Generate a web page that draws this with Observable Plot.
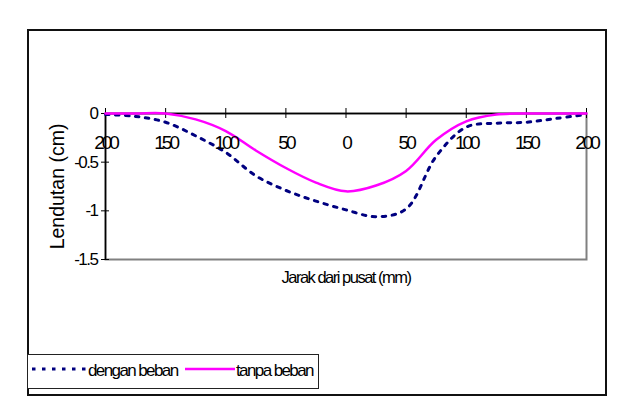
<!DOCTYPE html>
<html>
<head>
<meta charset="utf-8">
<script src="https://cdn.jsdelivr.net/npm/d3@7"></script>
<script src="https://cdn.jsdelivr.net/npm/@observablehq/plot@0.6"></script>
<style>
  html, body { margin: 0; padding: 0; background: #fff; }
  #wrap { position: relative; width: 635px; height: 415px; overflow: hidden; font-family: "Liberation Sans", Arial, sans-serif; }
  #chart { position: absolute; left: 0; top: 0; }
  #outer { position: absolute; left: 27px; top: 29px; width: 580px; height: 367px; border: 2px solid #111; box-sizing: border-box; pointer-events: none; }
  #legend { position: absolute; left: 27px; top: 354px; width: 292px; height: 35px; border: 1.5px solid #222; box-sizing: border-box; background: #fff; }
  #legend .sw { position: absolute; top: 11px; }
  #legend .lt { position: absolute; top: 6px; font-size: 17px; letter-spacing: -1.6px; color: #000; white-space: nowrap; line-height: 20px; }
</style>
</head>
<body>
<div id="wrap">
  <div id="chart"></div>
  <div id="outer"></div>
  <div id="legend"></div>
</div>
<script>
// Data
const xPositions = [-200, -175, -150, -125, -100, -75, -50, -25, 0, 25, 50, 75, 100, 125, 150, 175, 200];
const denganBeban = [-0.01, -0.03, -0.09, -0.23, -0.40, -0.64, -0.79, -0.90, -0.99, -1.06, -0.98, -0.44, -0.14, -0.10, -0.09, -0.05, -0.01];
const tanpaBeban  = [0, 0, 0, -0.06, -0.18, -0.38, -0.56, -0.71, -0.80, -0.74, -0.59, -0.27, -0.08, -0.01, 0, 0, 0];
const xTicks = [-200, -150, -100, -50, 0, 50, 100, 150, 200];
const yTicks = [0, -0.5, -1, -1.5];
const yTickLabels = ["0", "-0.5", "-1", "-1.5"];
const seriesNames = ["dengan beban", "tanpa beban"];
const seriesColors = ["#000080", "#FF00FF"];
const yTitle = "Lendutan (cm)";
const xTitle = "Jarak dari pusat (mm)";

const rows = [];
xPositions.forEach((x, i) => {
  rows.push({x, y: denganBeban[i], s: seriesNames[0]});
  rows.push({x, y: tanpaBeban[i], s: seriesNames[1]});
});

const plot = Plot.plot({
  width: 635,
  height: 415,
  marginLeft: 105,
  marginRight: 49,
  marginTop: 113,
  marginBottom: 156,
  x: {domain: [-200, 200], axis: null},
  y: {domain: [-1.5, 0], axis: null},
  style: {fontFamily: "'Liberation Sans', Arial, sans-serif", background: "transparent", color: "#000"},
  marks: [
    Plot.frame({stroke: "#808080", strokeWidth: 2}),
    Plot.ruleX([-200], {stroke: "#000", strokeWidth: 1.5}),
    Plot.ruleY([0], {stroke: "#000", strokeWidth: 1.5}),
    Plot.ruleX(xTicks, {x: d => d, y1: 0, y2: 0, insetTop: -5, insetBottom: -5, stroke: "#000", strokeWidth: 1}),
    Plot.ruleY(yTicks, {y: d => d, x1: -200, x2: -200, insetLeft: -4, insetRight: -4, stroke: "#000", strokeWidth: 1}),
    Plot.line(rows.filter(d => d.s === seriesNames[0]), {x: "x", y: "y", curve: "catmull-rom", stroke: seriesColors[0], strokeWidth: 3, strokeDasharray: "3.5,6.5"}),
    Plot.line(rows.filter(d => d.s === seriesNames[1]), {x: "x", y: "y", curve: "catmull-rom", stroke: seriesColors[1], strokeWidth: 2.5}),
    Plot.text(xTicks, {x: d => d, frameAnchor: "top", lineAnchor: "middle", dy: 29, text: d => String(Math.abs(d)), fontSize: 19, fill: "#000"}),
    Plot.text(yTicks, {y: d => d, frameAnchor: "left", dx: -8, textAnchor: "end", lineAnchor: "middle", text: (d, i) => yTickLabels[i], fontSize: 17, fill: "#000"}),
    Plot.text([yTitle], {frameAnchor: "left", dx: -48, rotate: -90, textAnchor: "middle", lineAnchor: "middle", text: d => d, fontSize: 19.5, fill: "#000"}),
    Plot.text([xTitle], {frameAnchor: "bottom", dy: 18, lineAnchor: "middle", text: d => d, fontSize: 16.5, fill: "#000"})
  ]
});
document.getElementById("chart").appendChild(plot);

// Condensed horizontal text, like the reference's rendering
const spacing = {"19": "-3px", "17": "-1.5px", "16.5": "-1.5px"};
d3.select(plot).selectAll("g").each(function() {
  const fs = this.getAttribute("font-size");
  if (fs && spacing[fs]) {
    d3.select(this).attr("letter-spacing", spacing[fs]).selectAll("text").attr("letter-spacing", spacing[fs]);
  }
});

// Legend
const legend = document.getElementById("legend");
const items = [
  {name: seriesNames[0], color: seriesColors[0], dash: "3.5,6.5", width: 3, swLeft: 4, swW: 56, txtLeft: 60},
  {name: seriesNames[1], color: seriesColors[1], dash: null, width: 2.5, swLeft: 157, swW: 50, txtLeft: 208}
];
items.forEach(it => {
  const sw = d3.create("svg").attr("class", "sw").attr("width", it.swW).attr("height", 6)
    .style("left", it.swLeft + "px");
  sw.append("line").attr("x1", 0).attr("x2", it.swW).attr("y1", 3).attr("y2", 3)
    .attr("stroke", it.color).attr("stroke-width", it.width)
    .attr("stroke-dasharray", it.dash);
  legend.appendChild(sw.node());
  const t = document.createElement("span");
  t.className = "lt";
  t.style.left = it.txtLeft + "px";
  t.textContent = it.name;
  legend.appendChild(t);
});
</script>
</body>
</html>
